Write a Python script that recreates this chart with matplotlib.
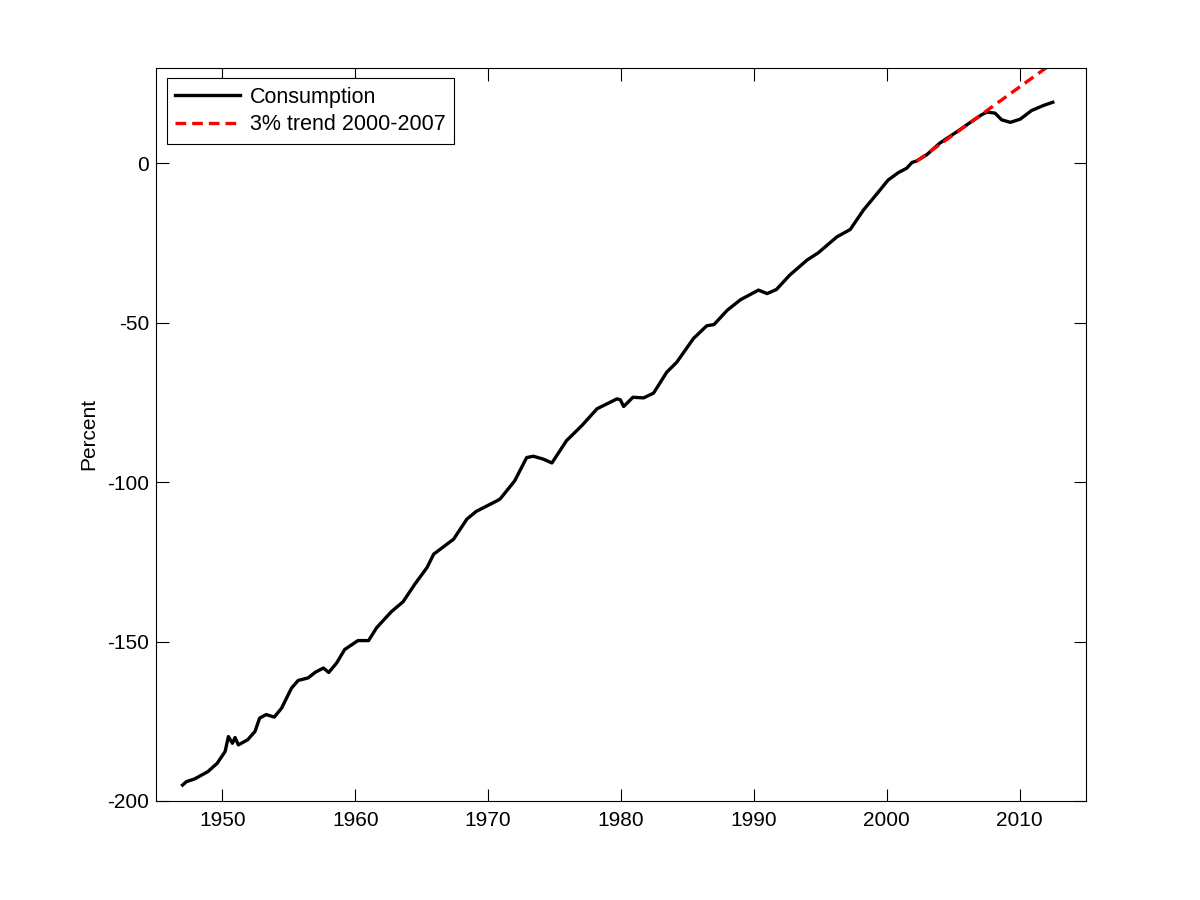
import matplotlib
matplotlib.use("Agg")
import matplotlib.pyplot as plt

plt.rcParams['font.family'] = ['Liberation Sans', 'DejaVu Sans']
plt.rcParams['axes.unicode_minus'] = False

# consumption, percent (log deviation from 2002)
years = [1947.0, 1947.3, 1947.9, 1948.9, 1949.6, 1950.2, 1950.45, 1950.75, 1950.95,
         1951.2, 1951.9, 1952.45, 1952.8, 1953.3, 1953.9, 1954.45, 1955.2, 1955.7,
         1956.45, 1957.0, 1957.6, 1958.0, 1958.6, 1959.2, 1960.2, 1961.0, 1961.6,
         1962.7, 1963.6, 1964.5, 1965.4, 1965.9, 1967.4, 1968.4, 1969.1, 1970.65,
         1970.9, 1972.0, 1972.9, 1973.4, 1974.15, 1974.8, 1975.9, 1977.05, 1978.2,
         1979.7, 1979.95, 1980.2, 1980.9, 1981.7, 1982.45, 1983.45, 1984.2, 1985.45,
         1986.45, 1987.0, 1988.0, 1989.0, 1990.35, 1991.0, 1991.7, 1992.7, 1994.0,
         1994.85, 1996.25, 1997.25, 1998.25, 1999.5, 2000.1, 2000.9, 2001.5, 2001.9,
         2002.25, 2003.0, 2004.0, 2005.3, 2006.3, 2007.15, 2007.55, 2008.15, 2008.65,
         2009.3, 2010.05, 2010.9, 2011.8, 2012.5]
consumption = [-195.0, -193.9, -193.1, -190.8, -188.2, -184.5, -179.8, -181.9, -180.1,
               -182.4, -180.8, -178.2, -174.0, -172.9, -173.7, -170.9, -164.6, -162.2,
               -161.4, -159.6, -158.3, -159.7, -156.7, -152.5, -149.7, -149.7, -145.7,
               -140.7, -137.5, -131.9, -126.8, -122.6, -117.9, -111.6, -109.2, -105.9,
               -105.3, -99.6, -92.3, -91.9, -92.8, -94.0, -87.0, -82.3, -77.0,
               -73.9, -74.2, -76.3, -73.4, -73.6, -72.1, -65.5, -62.4, -55.0,
               -51.0, -50.6, -46.1, -42.8, -39.8, -40.9, -39.6, -35.1, -30.4,
               -28.1, -23.1, -20.8, -14.7, -8.4, -5.3, -2.9, -1.6, 0.2,
               0.7, 2.6, 6.3, 9.9, 12.8, 15.2, 16.0, 15.7, 13.6,
               12.8, 13.8, 16.5, 18.1, 19.1]

trend_years = [2002.25, 2012.5]
trend_vals = [0.6, 31.4]

fig = plt.figure(figsize=(12, 9), dpi=100)
ax = fig.add_axes([0.13, 0.11, 0.775, 0.815])

ax.plot(years, consumption, color='black', linewidth=2.4, label='Consumption')
ax.plot(trend_years, trend_vals, color='red', linewidth=2.4, linestyle=(0, (3.2, 1.8)),
        label='3% trend 2000-2007')

ax.set_xlim(1945, 2015)
ax.set_ylim(-200, 30)
ax.set_xticks(range(1950, 2011, 10))
ax.set_yticks([-200, -150, -100, -50, 0])
ax.tick_params(direction='in', length=9, width=0.8, top=True, right=True, labelsize=15)
ax.tick_params(axis='x', pad=7)
ax.tick_params(axis='y', pad=5)
ax.set_ylabel('Percent', fontsize=15, labelpad=6)

leg = ax.legend(loc='upper left', fontsize=15.5, fancybox=False, edgecolor='black',
                framealpha=1, handlelength=3.0, handletextpad=0.45,
                borderpad=0.4, labelspacing=0.3, borderaxespad=0.5)
leg.get_frame().set_linewidth(0.8)

plt.savefig('out.png', dpi=100)
